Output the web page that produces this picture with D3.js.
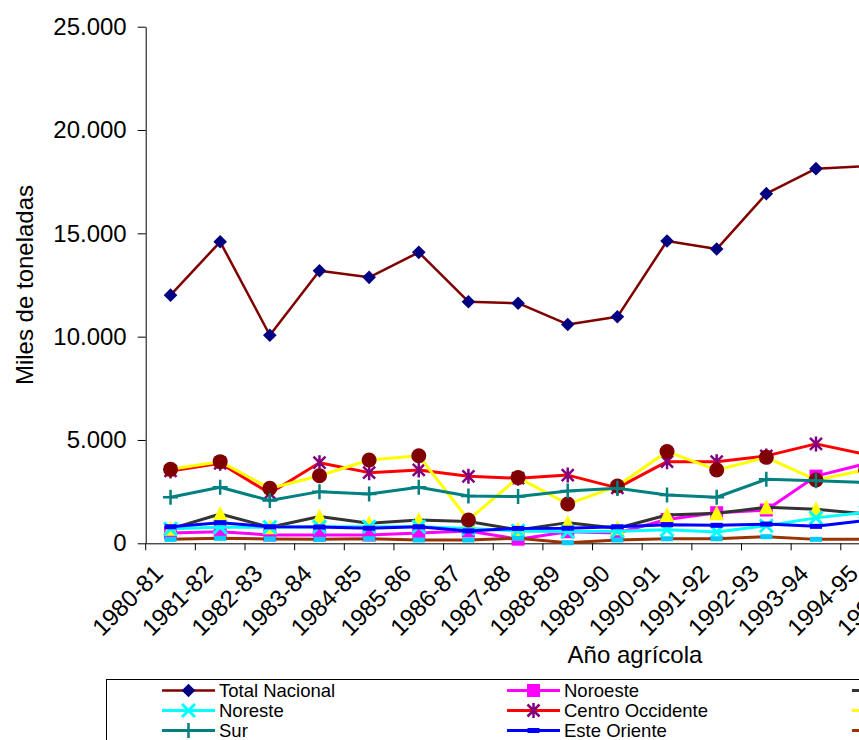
<!DOCTYPE html>
<html>
<head>
<meta charset="utf-8">
<script src="https://cdn.jsdelivr.net/npm/d3@7"></script>
<style>
  body { margin: 0; background: #fff; }
  svg { display: block; font-family: "Liberation Sans", Arial, sans-serif; }
</style>
</head>
<body>
<svg id="chart" width="859" height="740"></svg>
<script>
// categorias (ciclos agricolas)
const years = ['1980-81', '1981-82', '1982-83', '1983-84', '1984-85', '1985-86', '1986-87', '1987-88',
    '1988-89', '1989-90', '1990-91', '1991-92', '1992-93', '1993-94', '1994-95', '1995-96'];
const yTicks = [0, 5000, 10000, 15000, 20000, 25000];

// miles de toneladas
const totalNacional = [12010, 14590, 10070, 13190, 12870, 14080, 11690, 11620, 10590, 10960, 14630, 14240, 16920, 18130, 18250];
const noroeste = [500, 560, 400, 400, 400, 500, 600, 200, 560, 500, 1150, 1480, 1610, 3250, 3850];
const norte = [700, 1420, 780, 1300, 970, 1130, 1050, 650, 1000, 730, 1370, 1450, 1740, 1645, 1420];
const noreste = [700, 780, 780, 800, 800, 800, 720, 600, 560, 580, 650, 550, 850, 1230, 1500];
const centroOccidente = [3500, 3870, 2420, 3900, 3420, 3550, 3240, 3150, 3300, 2680, 3950, 3950, 4230, 4810, 4300];
const centro = [3580, 3950, 2660, 3270, 4030, 4240, 1130, 3180, 1900, 2770, 4440, 3550, 4160, 3065, 3550];
const sur = [2230, 2710, 2070, 2500, 2390, 2710, 2290, 2260, 2530, 2660, 2340, 2230, 3100, 3030, 2940];
const esteOriente = [800, 1000, 800, 790, 730, 800, 600, 720, 730, 800, 900, 870, 930, 820, 1100];
const sureste = [190, 240, 210, 190, 220, 160, 160, 240, 30, 160, 220, 220, 320, 190, 190];

const seriesNames = ['Total Nacional', 'Noroeste', 'Norte', 'Noreste', 'Centro Occidente', 'Centro', 'Sur', 'Este Oriente', 'Sureste'];
const seriesValues = [totalNacional, noroeste, norte, noreste, centroOccidente, centro, sur, esteOriente, sureste];
const lineColors = ['#800000', '#FF00FF', '#333333', '#00FFFF', '#FF0000', '#FFFF00', '#008080', '#0000FF', '#993300'];
const markerColors = ['#000080', '#FF00FF', '#FFFF00', '#00FFFF', '#800080', '#800000', '#008080', '#0000FF', '#00CCFF'];
const markerTypes = ['diamond', 'square', 'triangle', 'x', 'star', 'circle', 'plus', 'dash', 'dash'];

const margin = {top: 26.7, left: 145.7};
const innerHeight = 543.3 - margin.top;
const step = 49.65;

const svg = d3.select('#chart');
const fmt = d3.formatLocale({decimal: ',', thousands: '.', grouping: [3], currency: ['$', '']}).format(',d');

const xScale = d3.scaleBand()
    .domain(years)
    .range([0, step * years.length])
    .paddingInner(0).paddingOuter(0);

const yScale = d3.scaleLinear()
    .domain([0, 25000])
    .range([innerHeight, 0]);

const chartGroup = svg.append('g')
    .attr('transform', `translate(${margin.left}, ${margin.top})`);

// eje y
const yAxis = d3.axisLeft(yScale).tickValues(yTicks).tickFormat(fmt).tickSize(8).tickSizeOuter(0).tickPadding(11);
chartGroup.append('g')
    .call(yAxis)
    .call(g => g.selectAll('line, path').attr('stroke', '#000'))
    .selectAll('text')
    .style('font-size', '24px')
    .style('fill', '#000');

// eje x: marcas entre categorias, etiquetas giradas
const xAxis = d3.axisBottom(xScale).tickSize(7).tickSizeOuter(0);
const gx = chartGroup.append('g')
    .attr('transform', `translate(0, ${innerHeight})`)
    .call(xAxis);
gx.selectAll('line, path').attr('stroke', '#000');
gx.selectAll('.tick line').attr('transform', `translate(${-step / 2},0)`);
gx.selectAll('text')
    .attr('x', 0).attr('y', 0).attr('dy', 0)
    .attr('transform', 'translate(-6,31.7) rotate(-45)')
    .style('text-anchor', 'end')
    .style('font-size', '24px')
    .style('fill', '#000');

// titulos de ejes
svg.append('text')
    .attr('transform', 'translate(33,285) rotate(-90)')
    .style('text-anchor', 'middle')
    .style('font-size', '24px')
    .text('Miles de toneladas');

svg.append('text')
    .attr('x', 635).attr('y', 663)
    .style('text-anchor', 'middle')
    .style('font-size', '24px')
    .text('Año agrícola');

function drawMarker(g, type, color) {
    if (type === 'diamond') {
        g.append('path').attr('d', 'M0,-6.8L6.8,0L0,6.8L-6.8,0Z').attr('fill', color);
    } else if (type === 'square') {
        g.append('rect').attr('x', -6.5).attr('y', -6.5).attr('width', 13).attr('height', 13).attr('fill', color);
    } else if (type === 'triangle') {
        g.append('path').attr('d', 'M0,-8L7.5,7L-7.5,7Z').attr('fill', color);
    } else if (type === 'x') {
        g.append('path').attr('d', 'M-6.5,-6.5L6.5,6.5M-6.5,6.5L6.5,-6.5')
            .attr('stroke', color).attr('stroke-width', 3);
    } else if (type === 'star') {
        g.append('path').attr('d', 'M-6,-6L6,6M-6,6L6,-6M0,-7.5L0,7.5')
            .attr('stroke', color).attr('stroke-width', 2.5);
    } else if (type === 'circle') {
        g.append('circle').attr('r', 7.5).attr('fill', color);
    } else if (type === 'plus') {
        g.append('path').attr('d', 'M-7.5,0L7.5,0M0,-7.5L0,7.5')
            .attr('stroke', color).attr('stroke-width', 2.5);
    } else if (type === 'dash') {
        g.append('rect').attr('x', -6).attr('y', -2.5).attr('width', 12).attr('height', 5).attr('fill', color);
    }
}

const line = d3.line()
    .x((d, i) => xScale(years[i]) + xScale.bandwidth() / 2)
    .y(d => yScale(d));

const plot = chartGroup.append('g');
seriesValues.forEach((values, s) => {
    const g = plot.append('g');
    g.append('path')
        .datum(values)
        .attr('d', line)
        .attr('fill', 'none')
        .attr('stroke', lineColors[s])
        .attr('stroke-width', s === 0 ? 2.5 : 3)
        .attr('stroke-linejoin', 'round');
    g.selectAll('.mk')
        .data(values)
        .join('g')
        .attr('class', 'mk')
        .attr('transform', (d, i) => `translate(${xScale(years[i]) + xScale.bandwidth() / 2},${yScale(d)})`)
        .each(function () { drawMarker(d3.select(this), markerTypes[s], markerColors[s]); });
});

// leyenda
const legend = svg.append('g');
legend.append('rect')
    .attr('x', 106.5).attr('y', 679.5)
    .attr('width', 1100).attr('height', 120)
    .attr('fill', '#fff').attr('stroke', '#000');

seriesNames.forEach((name, s) => {
    const col = s % 3, row = Math.floor(s / 3);
    const item = legend.append('g')
        .attr('transform', `translate(${162 + col * 345},${690.5 + row * 20})`);
    item.append('line')
        .attr('x1', 0).attr('x2', 53)
        .attr('stroke', lineColors[s]).attr('stroke-width', s === 0 ? 2.5 : 3);
    drawMarker(item.append('g').attr('transform', 'translate(26.5,0)'), markerTypes[s], markerColors[s]);
    item.append('text')
        .attr('x', 57).attr('dy', '0.35em')
        .style('font-size', '18.5px')
        .text(name);
});
</script>
</body>
</html>
